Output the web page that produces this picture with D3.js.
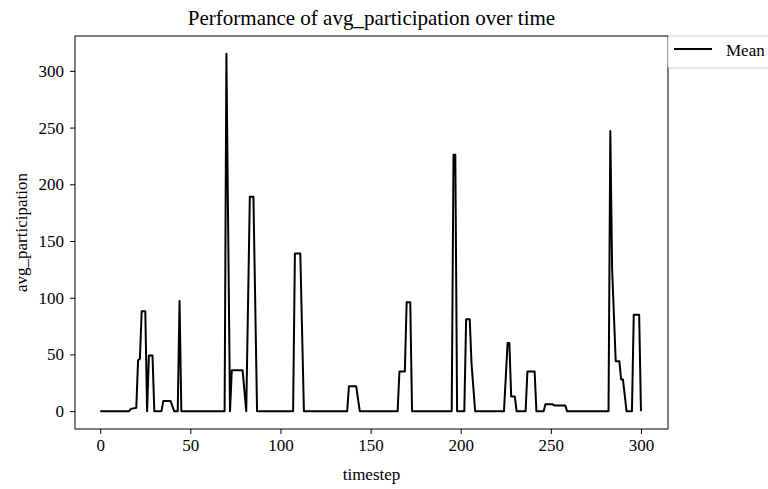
<!DOCTYPE html>
<html>
<head>
<meta charset="utf-8">
<script src="https://cdn.jsdelivr.net/npm/d3@7/dist/d3.min.js"></script>
<style>
  body { margin: 0; background: #fff; }
  text { font-family: "Liberation Serif", "DejaVu Serif", serif; fill: #000; }
</style>
</head>
<body>
<script>
// breakpoints of the mean curve
var timesteps = [0, 16, 17, 20, 21, 22, 23, 25, 26, 27, 29, 30, 34, 35, 39, 41, 43, 44, 45,
  69, 70, 72, 73, 79, 81, 83, 85, 87,
  107, 108, 111, 113,
  137, 138, 142, 144,
  165, 166, 169, 170, 172, 173,
  195, 196, 197, 198, 202, 203, 205, 206, 208,
  224, 226, 227, 228, 230, 231,
  236, 237, 241, 242, 246, 247, 251, 252, 258, 259,
  282, 283, 284, 286, 288, 289, 290, 292, 295, 296, 299, 300];
var avgParticipation = [0, 0, 2, 3, 45, 46, 88, 88, 0, 49, 49, 0, 0, 9, 9, 0, 0, 97, 0,
  0, 315, 0, 36, 36, 0, 189, 189, 0,
  0, 139, 139, 0,
  0, 22, 22, 0,
  0, 35, 35, 96, 96, 0,
  0, 226, 226, 0, 0, 81, 81, 42, 0,
  0, 60, 60, 13, 13, 0,
  0, 35, 35, 0, 0, 6, 6, 5, 5, 0,
  0, 247, 125, 44, 44, 28, 28, 0, 0, 85, 85, 0];
var xTicks = [0, 50, 100, 150, 200, 250, 300];
var yTicks = [0, 50, 100, 150, 200, 250, 300];
var seriesName = 'Mean';

var width = 768, height = 489;
var m = {left: 75, right: 668, top: 36, bottom: 429};

var svg = d3.select('body').append('svg')
  .attr('width', width).attr('height', height);

var x = d3.scaleLinear().domain([-14, 315]).range([m.left, m.right]);
var y = d3.scaleLinear().domain([-15.75, 330.75]).range([m.bottom, m.top]);

var pts = timesteps.map(function(t, i) { return [t, avgParticipation[i]]; });

svg.append('path')
  .datum(pts)
  .attr('fill', 'none')
  .attr('stroke', '#000')
  .attr('stroke-width', 2)
  .attr('stroke-linejoin', 'round')
  .attr('d', d3.line().x(function(d) { return x(d[0]); }).y(function(d) { return y(d[1]); }));

var xAxis = svg.append('g')
  .attr('transform', 'translate(0,' + m.bottom + ')')
  .call(d3.axisBottom(x).tickValues(xTicks).tickSize(5).tickPadding(5).tickSizeOuter(0));
var yAxis = svg.append('g')
  .attr('transform', 'translate(' + m.left + ',0)')
  .call(d3.axisLeft(y).tickValues(yTicks).tickSize(5).tickPadding(6).tickSizeOuter(0));

[xAxis, yAxis].forEach(function(g) {
  g.select('.domain').remove();
  g.selectAll('line').attr('stroke', '#000');
  g.selectAll('text').style('font-family', '"Liberation Serif", serif').style('font-size', '17px');
});

// frame
svg.append('rect')
  .attr('x', m.left).attr('y', m.top)
  .attr('width', m.right - m.left).attr('height', m.bottom - m.top)
  .attr('fill', 'none').attr('stroke', '#000').attr('stroke-width', 1);

svg.append('text')
  .attr('x', (m.left + m.right) / 2).attr('y', 25)
  .attr('text-anchor', 'middle')
  .style('font-size', '21px')
  .text('Performance of avg_participation over time');

svg.append('text')
  .attr('x', (m.left + m.right) / 2).attr('y', 480)
  .attr('text-anchor', 'middle')
  .style('font-size', '17px')
  .text('timestep');

svg.append('text')
  .attr('transform', 'translate(27,' + (m.top + m.bottom) / 2 + ') rotate(-90)')
  .attr('text-anchor', 'middle')
  .style('font-size', '17px')
  .text('avg_participation');

// legend
var lg = svg.append('g');
lg.append('rect')
  .attr('x', m.right).attr('y', m.top)
  .attr('width', 120).attr('height', 32).attr('rx', 2)
  .attr('fill', '#fff').attr('stroke', '#d0d0d0');
lg.append('line')
  .attr('x1', 674).attr('x2', 712).attr('y1', 49).attr('y2', 49)
  .attr('stroke', '#000').attr('stroke-width', 2);
lg.append('text')
  .attr('x', 726).attr('y', 56)
  .style('font-size', '17px')
  .text(seriesName);
</script>
</body>
</html>
